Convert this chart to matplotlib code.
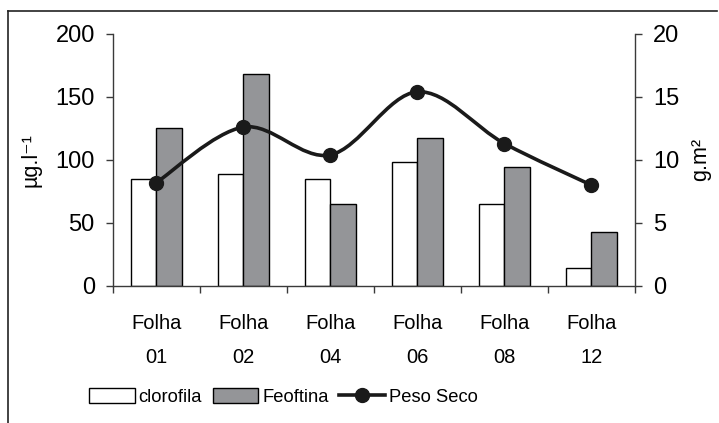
import numpy as np
import matplotlib.pyplot as plt
from matplotlib.path import Path
from matplotlib.patches import PathPatch, Patch
from matplotlib.lines import Line2D

plt.rcParams['font.family'] = ['Liberation Sans', 'DejaVu Sans']

categories = ['Folha\n01', 'Folha\n02', 'Folha\n04', 'Folha\n06', 'Folha\n08', 'Folha\n12']
clorofila = [85, 89, 85, 98, 65, 14]
feoftina = [125, 168, 65, 117, 94, 43]
peso_seco = [8.2, 12.6, 10.4, 15.4, 11.3, 8.0]

axis_col = '#3a3a3a'
gray = '#949598'

fig = plt.figure(figsize=(7.19, 4.23), dpi=100)
ax = fig.add_axes([0.157, 0.324, 0.726, 0.596])
ax2 = ax.twinx()

x = np.arange(len(categories))
w = 0.29
ax.bar(x - w / 2, clorofila, w, color='white', edgecolor='black', linewidth=1, label='clorofila')
ax.bar(x + w / 2, feoftina, w, color=gray, edgecolor='black', linewidth=1, label='Feoftina')

# smoothed line (Excel style bezier through the points)
pts = np.column_stack([x, peso_seco]).astype(float)
verts = [pts[0]]
codes = [Path.MOVETO]
for i in range(len(pts) - 1):
    p0 = pts[max(i - 1, 0)]
    p1 = pts[i]
    p2 = pts[i + 1]
    p3 = pts[min(i + 2, len(pts) - 1)]
    verts += [p1 + (p2 - p0) / 6, p2 - (p3 - p1) / 6, p2]
    codes += [Path.CURVE4] * 3
ax2.add_patch(PathPatch(Path(verts, codes), facecolor='none', edgecolor='#1a1a1a', linewidth=2.6, zorder=3))
ax2.plot(x, peso_seco, 'o', color='#1a1a1a', markersize=10, zorder=4)

ax.set_xlim(-0.5, len(categories) - 0.5)
ax.set_ylim(0, 200)
ax2.set_ylim(0, 20)
ax.set_yticks(range(0, 201, 50))
ax2.set_yticks(range(0, 21, 5))

ax.set_xticks(x)
ax.set_xticklabels(categories, fontsize=14.5, linespacing=2.0)
ax.set_xticks(np.arange(-0.5, len(categories)), minor=True)
ax.tick_params(axis='x', which='major', length=0, pad=20)
ax.tick_params(axis='x', which='minor', length=5, width=1, color=axis_col, direction='out')
ax.tick_params(axis='y', length=5, width=1, color=axis_col, labelsize=17, pad=8)
ax2.tick_params(axis='y', length=5, width=1, color=axis_col, labelsize=17, pad=8)

for a in (ax, ax2):
    a.spines['top'].set_visible(False)
    for s in ('left', 'right', 'bottom'):
        a.spines[s].set_color(axis_col)
        a.spines[s].set_linewidth(1)
ax.spines['right'].set_visible(False)
ax2.spines['left'].set_visible(False)
ax2.spines['bottom'].set_visible(False)

ax.set_ylabel('µg.l⁻¹', fontsize=15.5)
ax.yaxis.set_label_coords(-0.136, 0.5)
ax2.set_ylabel('g.m²', fontsize=15.5)
ax2.yaxis.set_label_coords(1.105, 0.5)

handles = [
    Patch(facecolor='white', edgecolor='black', linewidth=1),
    Patch(facecolor=gray, edgecolor='black', linewidth=1),
    Line2D([], [], color='#1a1a1a', linewidth=2.6, marker='o', markersize=10),
]
fig.legend(handles, ['clorofila', 'Feoftina', 'Peso Seco'], loc='center', bbox_to_anchor=(0.394, 0.062),
           ncol=3, frameon=False, fontsize=13.2, handlelength=2.5, handleheight=0.85,
           handletextpad=0.2, columnspacing=0.6)

# outer frame (left and top only)
fig.add_artist(Line2D([0.011, 0.011], [0.0, 0.975], color='#222222', linewidth=1.2, transform=fig.transFigure))
fig.add_artist(Line2D([0.011, 0.997], [0.975, 0.975], color='#222222', linewidth=1.2, transform=fig.transFigure))

fig.savefig('out.png', dpi=100)
